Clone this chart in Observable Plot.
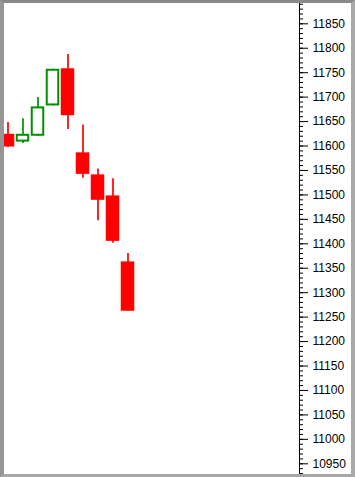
<!DOCTYPE html>
<html>
<head>
<meta charset="utf-8">
<script src="https://cdn.jsdelivr.net/npm/d3@7"></script>
<script src="https://cdn.jsdelivr.net/npm/@observablehq/plot@0.6"></script>
<style>
  html, body { margin: 0; padding: 0; background: #fff; }
  #frame {
    width: 355px; height: 477px; box-sizing: border-box; overflow: hidden;
    border-style: solid;
    border-width: 3px 4px 3px 4px;
    border-color: #8a8a8a #a8a8a8 #a8a8a8 #969696;
    background: #fff;
  }
  #frame svg { display: block; }
</style>
</head>
<body>
<div id="frame"></div>
<script>
// Candle data (index order, left to right)
const opens  = [11624, 11608, 11620, 11682, 11758, 11586, 11541, 11498, 11363];
const highs  = [11648, 11656, 11699, 11757, 11787, 11643, 11553, 11533, 11380];
const lows   = [11597, 11605, 11620, 11682, 11634, 11534, 11447, 11401, 11262];
const closes = [11598, 11624, 11680, 11757, 11662, 11542, 11489, 11405, 11262];

// Axis tick values
const majorTicks = d3.range(10950, 11851, 50);
const minorTicks = d3.range(10920, 11900, 10);

const candles = opens.map((o, i) => ({i, open: o, high: highs[i], low: lows[i], close: closes[i]}));
const up = candles.filter(d => d.close >= d.open);
const down = candles.filter(d => d.close < d.open);

const RED = "#ff0000";
const GREEN = "#009000";
const half = 0.45;
const xEnd = 19.433;

const chart = Plot.plot({
  width: 347,
  height: 471,
  marginLeft: 0,
  marginRight: 52,
  marginTop: 0,
  marginBottom: 0,
  style: {background: "#fff", overflow: "hidden"},
  x: {domain: [-0.233, xEnd], axis: null},
  y: {domain: [10950, 11850], range: [460.3, 20.3], axis: null},
  marks: [
    Plot.ruleX(down, {x: "i", y1: "low", y2: "high", stroke: RED, strokeWidth: 1.7}),
    Plot.ruleX(up, {x: "i", y1: "low", y2: "high", stroke: GREEN, strokeWidth: 1.7}),
    Plot.rect(down, {x1: d => d.i - half, x2: d => d.i + half, y1: "open", y2: "close", fill: RED}),
    Plot.rect(up, {x1: d => d.i - half, x2: d => d.i + half, y1: "open", y2: "close",
      fill: "#fff", stroke: GREEN, strokeWidth: 2, inset: 1}),
    Plot.ruleX([xEnd], {stroke: "#000", strokeWidth: 1}),
    Plot.axisY(minorTicks, {anchor: "right", tickSize: 3, tickFormat: () => "", stroke: "#000"}),
    Plot.axisY(majorTicks, {anchor: "right", tickSize: 8, tickPadding: 5,
      tickFormat: d => String(d), fontSize: 12, fill: "#000", stroke: "#000",
      fontFamily: "Liberation Sans, Arial, sans-serif"})
  ]
});
document.getElementById("frame").appendChild(chart);
</script>
</body>
</html>
